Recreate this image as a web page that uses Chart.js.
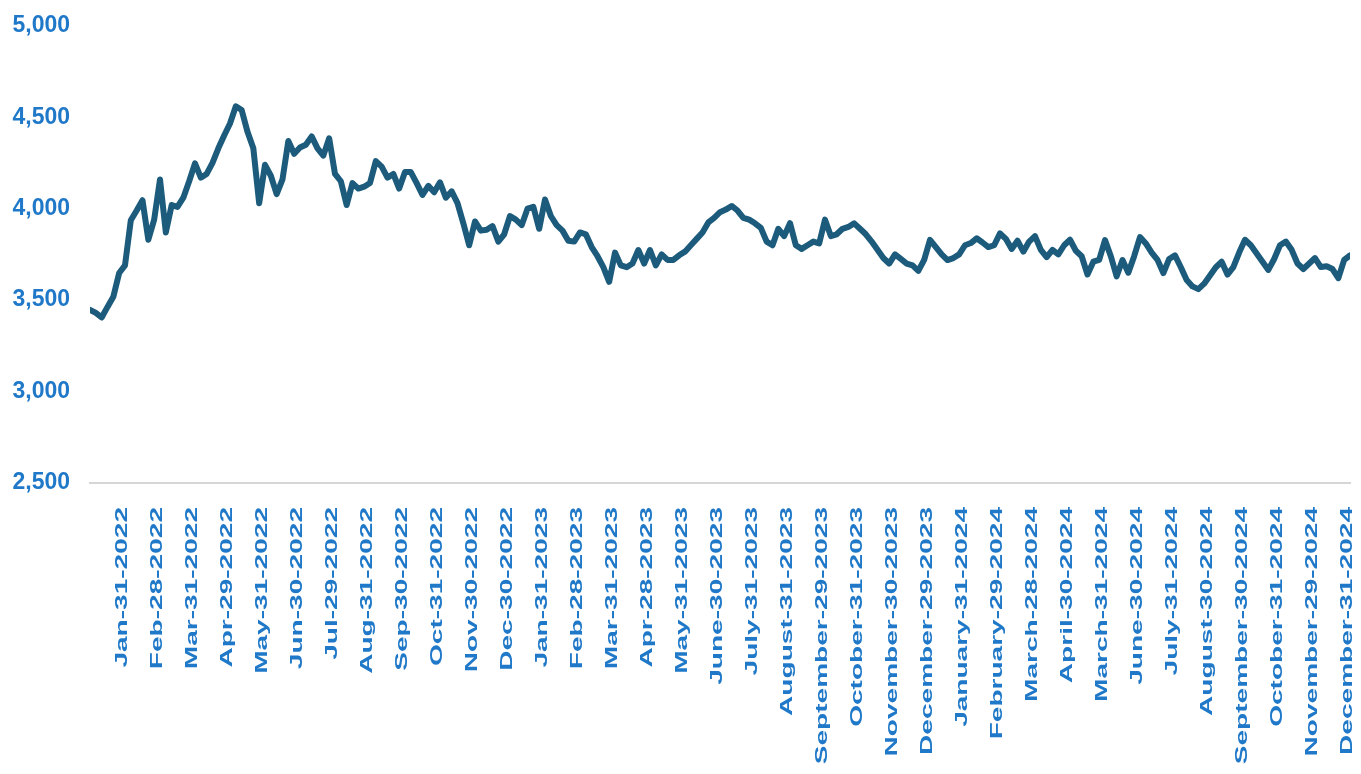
<!DOCTYPE html>
<html lang="en">

<head>
    <meta charset="UTF-8">
    <meta name="viewport" content="width=device-width, initial-scale=1.0">
    <title>Daily index 2022-2024</title>
    <script src="https://cdn.jsdelivr.net/npm/chart.js"></script>
    <style>
        body { margin: 0; background: #ffffff; }
        #wrap { width: 1361px; height: 774px; }
    </style>
</head>

<body>
    <div id="wrap">
        <canvas id="lineChart" width="1361" height="774"></canvas>
    </div>
    <script>
        // month-end labels, as printed on the original chart
        const tickLabels = [
            'Jan-31-2022', 'Feb-28-2022', 'Mar-31-2022', 'Apr-29-2022', 'May-31-2022', 'Jun-30-2022',
            'Jul-29-2022', 'Aug-31-2022', 'Sep-30-2022', 'Oct-31-2022', 'Nov-30-2022', 'Dec-30-2022',
            'Jan-31-2023', 'Feb-28-2023', 'Mar-31-2023', 'Apr-28-2023', 'May-31-2023', 'June-30-2023',
            'July-31-2023', 'August-31-2023', 'September-29-2023', 'October-31-2023', 'November-30-2023', 'December-29-2023',
            'January-31-2024', 'February-29-2024', 'March-28-2024', 'April-30-2024', 'March-31-2024', 'June-30-2024',
            'July-31-2024', 'August-30-2024', 'September-30-2024', 'October-31-2024', 'November-29-2024', 'December-31-2024'
        ];

        // readings every ~5 days (6 per month)
        const pointsPerMonth = 6;

        const values2022 = [
            3447, 3430, 3405, 3463, 3518, 3648,
            3690, 3937, 3990, 4046, 3830, 3940,
            4160, 3870, 4020, 4010, 4060, 4150,
            4248, 4170, 4190, 4250, 4330, 4400,
            4466, 4560, 4540, 4420, 4330, 4030,
            4240, 4180, 4080, 4160, 4370, 4300,
            4335, 4350, 4395, 4330, 4290, 4385,
            4190, 4150, 4020, 4140, 4110, 4120,
            4140, 4260, 4230, 4170, 4190, 4110,
            4200, 4200, 4140, 4075, 4125, 4090,
            4144, 4060, 4095, 4030, 3920, 3800,
            3930, 3880, 3885, 3905, 3820, 3860
        ];

        const values2023 = [
            3960, 3940, 3910, 4000, 4010, 3890,
            4050, 3960, 3910, 3880, 3825, 3820,
            3870, 3860, 3790, 3740, 3680, 3600,
            3760, 3690, 3680, 3700, 3774, 3700,
            3774, 3690, 3750, 3720, 3720, 3745,
            3765, 3800, 3835, 3870, 3925, 3950,
            3981, 3995, 4015, 3990, 3950, 3940,
            3920, 3895, 3820, 3800, 3890, 3850,
            3921, 3800, 3780, 3800, 3820, 3810,
            3940, 3850, 3860, 3890, 3900, 3920,
            3890, 3860, 3820, 3775, 3730, 3700,
            3750, 3725, 3700, 3690, 3660, 3720
        ];

        const values2024 = [
            3830, 3790, 3750, 3719, 3730, 3750,
            3800, 3812, 3838, 3815, 3790, 3800,
            3865, 3835, 3780, 3825, 3765, 3820,
            3850, 3775, 3735, 3775, 3750, 3800,
            3830, 3770, 3740, 3640, 3710, 3720,
            3828, 3740, 3630, 3719, 3650, 3740,
            3845, 3810, 3760, 3720, 3648, 3725,
            3745, 3680, 3610, 3575, 3560, 3590,
            3635, 3680, 3710, 3640, 3680, 3760,
            3830, 3800, 3755, 3710, 3665, 3725,
            3800, 3820, 3775, 3700, 3670, 3700,
            3730, 3681, 3685, 3670, 3620, 3720, 3745
        ];

        const yTicks = [2500, 3000, 3500, 4000, 4500, 5000];

        const labelBlue = '#1f78c8';
        const lineColor = '#1c5b7b';

        // x is measured in months since Jan-1-2022
        const series = values2022.concat(values2023, values2024)
            .map((v, i) => ({ x: i / pointsPerMonth, y: v }));

        // the month-end labels are tall and narrow in the original, so draw them stretched
        const monthLabels = {
            id: 'monthLabels',
            afterDraw(chart) {
                const ctx = chart.ctx;
                const xScale = chart.scales.x;
                ctx.save();
                ctx.fillStyle = labelBlue;
                ctx.font = 'bold 17px "Liberation Sans", Arial, sans-serif';
                ctx.textAlign = 'right';
                ctx.textBaseline = 'middle';
                tickLabels.forEach((label, i) => {
                    const x = xScale.getPixelForValue(i + 1);
                    ctx.save();
                    ctx.translate(x - 3, xScale.top + 24);
                    ctx.rotate(-Math.PI / 2);
                    ctx.scale(1.65, 1);
                    ctx.fillText(label, 0, 0);
                    ctx.restore();
                });
                ctx.restore();
            }
        };

        const data = {
            datasets: [{
                label: 'Index',
                data: series,
                borderColor: lineColor,
                borderWidth: 6,
                pointRadius: 0,
                tension: 0,
                borderJoinStyle: 'round',
                borderCapStyle: 'round'
            }]
        };

        const config = {
            type: 'line',
            data: data,
            options: {
                responsive: false,
                animation: false,
                layout: {
                    padding: { top: 18, right: 11, left: 0, bottom: 0 }
                },
                plugins: {
                    legend: { display: false },
                    tooltip: { enabled: false }
                },
                scales: {
                    x: {
                        type: 'linear',
                        min: 0,
                        max: tickLabels.length,
                        grid: { display: false },
                        border: { display: true, color: '#d6d6d6', width: 2 },
                        ticks: { display: false },
                        afterFit: (scale) => { scale.height = 291; }
                    },
                    y: {
                        min: yTicks[0],
                        max: yTicks[yTicks.length - 1],
                        grid: { display: false },
                        border: { display: false },
                        afterBuildTicks: (scale) => {
                            scale.ticks = yTicks.map(v => ({ value: v }));
                        },
                        afterFit: (scale) => { scale.width = 90; },
                        ticks: {
                            color: labelBlue,
                            padding: 12,
                            font: { family: '"Liberation Sans", Arial, sans-serif', size: 23, weight: 'bold' },
                            callback: (v) => v.toLocaleString('en-US')
                        }
                    }
                }
            },
            plugins: [monthLabels]
        };

        const ctx = document.querySelector('#lineChart').getContext('2d');
        const lineChart = new Chart(ctx, config);
    </script>
</body>

</html>
